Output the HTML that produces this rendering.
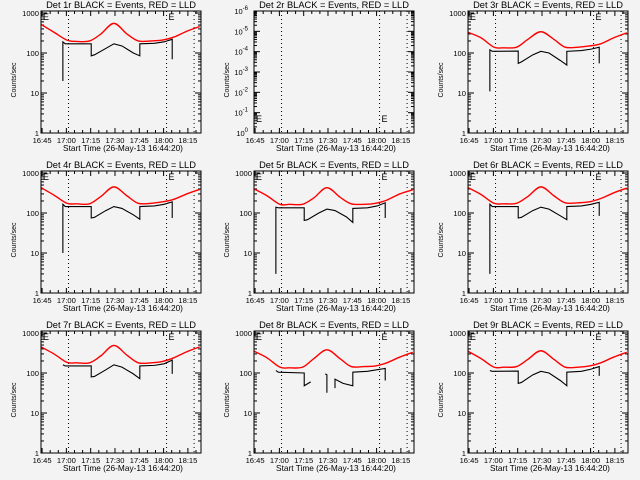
<!DOCTYPE html>
<html><head><meta charset="utf-8"><style>
html,body{margin:0;padding:0;background:#f3f3f3}
svg{display:block;font-family:"Liberation Sans",sans-serif}
</style></head><body>
<svg id="c" width="640" height="480" xmlns="http://www.w3.org/2000/svg">
<rect width="640" height="480" fill="#f3f3f3"/>
</svg>
<script>
const detNames = ["1r","2r","3r","4r","5r","6r","7r","8r","9r"];
const xTickLabels = ["16:45","17:00","17:15","17:30","17:45","18:00","18:15"];
const xTickMinutes = [0.67,15.67,30.67,45.67,60.67,75.67,90.67];
const dottedMinutes = [17,77.5,94.5];
const yTickLabels = ["1","10","100","1000"];
const yTickValues = [1,10,100,1000];
const redTimes = [0,8,16,22,30,37,45,53,60,68,75,82,90,98];
const red1 = [520,330,210,195,200,300,550,300,200,200,210,250,350,460];
const red3 = [330,240,140,135,140,220,340,220,140,140,150,170,240,320];
const red4 = [430,280,175,170,170,260,450,270,175,175,190,220,300,390];
const red5 = [400,270,165,165,165,240,430,250,170,165,175,210,300,380];
const red6 = [430,290,175,170,175,260,450,270,180,180,190,230,320,420];
const red7 = [450,300,185,180,180,270,490,280,180,180,195,240,340,450];
const red8 = [350,240,140,135,140,230,380,230,145,145,150,180,250,330];
const red9 = [350,230,140,140,145,220,360,220,140,140,150,180,250,330];
const blackTimes = [13.5,13.5,15,31,31,33,40,45,50,57,61,61,70,76,81,81];
const black1 = [20,190,170,170,85,90,130,170,150,100,85,170,175,190,220,70];
const black3 = [11,120,110,112,55,60,90,110,100,65,50,110,115,125,140,55];
const black4 = [10,165,145,145,75,78,115,145,130,90,70,145,150,165,190,75];
const black5 = [3,140,135,135,65,68,100,125,115,80,58,130,135,150,180,75];
const black6 = [3,165,145,145,75,78,115,140,125,85,68,145,150,165,185,85];
const black7 = [160,160,150,150,80,82,120,160,140,95,72,150,155,170,210,95];
const black9 = [115,115,110,112,55,58,90,110,100,65,48,105,110,125,145,85];
const black8Times = [13.5,15,31,31,35,null,44,45,45,null,50,50,55,61,61,70,81,81];
const black8 = [115,105,100,48,60,null,95,90,32,null,42,70,55,48,105,110,130,65];

const NS="http://www.w3.org/2000/svg";
const svg=document.getElementById('c');
const colX=[41,254,468], rowY=[11,171,331], W=160, H=122;
const pxPerMin=1.62;
function mk(tag,attrs,parent){const e=document.createElementNS(NS,tag);for(const k in attrs)e.setAttribute(k,attrs[k]);(parent||svg).appendChild(e);return e;}
function txt(s,attrs,parent){const e=mk('text',attrs,parent);e.textContent=s;return e;}
function smoothPath(pts){
  let d='M'+pts[0][0]+','+pts[0][1];
  for(let i=0;i<pts.length-1;i++){
    const p0=pts[Math.max(0,i-1)],p1=pts[i],p2=pts[i+1],p3=pts[Math.min(pts.length-1,i+2)];
    const c1x=p1[0]+(p2[0]-p0[0])/6,c1y=p1[1]+(p2[1]-p0[1])/6;
    const c2x=p2[0]-(p3[0]-p1[0])/6,c2y=p2[1]-(p3[1]-p1[1])/6;
    d+=` C${c1x},${c1y} ${c2x},${c2y} ${p2[0]},${p2[1]}`;
  }
  return d;
}

const reds=[red1,null,red3,red4,red5,red6,red7,red8,red9];
const blacks=[black1,null,black3,black4,black5,black6,black7,black8,black9];

for(let p=0;p<9;p++){
  const x0=colX[p%3], y0=rowY[Math.floor(p/3)], yb=y0+H;
  const g=mk('g',{});
  
  
  const xs=t=>x0+t*pxPerMin;
  const ys=v=>yb-Math.log10(v)*40;
  const t1=txt('Det '+detNames[p]+' BLACK = Events, RED = LLD',{x:x0+W/2,y:y0-3,'text-anchor':'middle','font-size':'9.3'},g);
  
  
  const yl=txt('Counts/sec',{transform:`translate(${x0-25},${y0+H/2+8}) rotate(-90)`,'text-anchor':'middle','font-size':'7'},g);
  
  
  const xl=txt('Start Time (26-May-13 16:44:20)',{x:x0+W/2+2,y:yb+18,'text-anchor':'middle','font-size':'8.3'},g);
  
  
  for(let m=0.67;m<W/pxPerMin;m+=5){
    const major=Math.abs(((m-0.67)%15))<0.01;
    const L=major?5:3;
    mk('line',{x1:xs(m),x2:xs(m),y1:yb,y2:yb-L,stroke:'#000'},g);
    mk('line',{x1:xs(m),x2:xs(m),y1:y0,y2:y0+L,stroke:'#000'},g);
  }
  xTickLabels.forEach((s,i)=>{
    const e=txt(s,{x:xs(xTickMinutes[i]),y:yb+10,'text-anchor':'middle','font-size':'7.6'},g);
    
    
  });
  dottedMinutes.forEach(m=>{
    const d=mk('line',{x1:xs(m),x2:xs(m),y1:y0,y2:yb,stroke:'#000','stroke-dasharray':'1,3'},g);
    
    
  });
  if(p===1){
    const dec=H/6;
    for(let k=0;k<=6;k++){
      const y=yb-k*dec;
      mk('line',{x1:x0,x2:x0+6,y1:y,y2:y,stroke:'#000'},g);
      mk('line',{x1:x0+W,x2:x0+W-6,y1:y,y2:y,stroke:'#000'},g);
      if(k<6)for(let j=2;j<10;j++){const yy=y-Math.log10(j)*dec;
        mk('line',{x1:x0,x2:x0+3,y1:yy,y2:yy,stroke:'#000'},g);
        mk('line',{x1:x0+W,x2:x0+W-3,y1:yy,y2:yy,stroke:'#000'},g);}
      const e=txt('10',{x:x0-6,y:y+3,'text-anchor':'end','font-size':'7.5'},g);
      const sp=mk('tspan',{dy:'-4','font-size':'6'},e); sp.textContent=(k===0?'0':'-'+k);
      
      
    }
    txt('E',{x:x0+2,y:yb-11,'font-size':'9'},g);
    txt('E',{x:xs(dottedMinutes[1])+2,y:yb-11,'font-size':'9'},g);
  } else {
    for(let k=0;k<4;k++){
      const y=ys(yTickValues[k]);
      mk('line',{x1:x0,x2:x0+6,y1:y,y2:y,stroke:'#000'},g);
      mk('line',{x1:x0+W,x2:x0+W-6,y1:y,y2:y,stroke:'#000'},g);
      for(let j=2;j<10;j++){const yy=ys(yTickValues[k]*j); if(yy<y0)break;
        mk('line',{x1:x0,x2:x0+3,y1:yy,y2:yy,stroke:'#000'},g);
        mk('line',{x1:x0+W,x2:x0+W-3,y1:yy,y2:yy,stroke:'#000'},g);}
      const e=txt(yTickLabels[k],{x:x0-2,y:y+3,'text-anchor':'end','font-size':'7.6'},g);
      
      
    }
    txt('E',{x:x0+2,y:y0+9,'font-size':'9'},g);
    txt('E',{x:xs(dottedMinutes[1])+2,y:y0+9,'font-size':'9'},g);
    const rv=reds[p];
    const rl=mk('path',{d:smoothPath(redTimes.map((t,i)=>[xs(t),ys(rv[i])])),fill:'none',stroke:'#ff0000','stroke-width':'1.4'},g);
    
    
    const bt=p===7?black8Times:blackTimes, bv=blacks[p];
    let d='',pen=false;
    bt.forEach((t,i)=>{ if(t===null||bv[i]===null){pen=false;return;}
      d+=(pen?'L':'M')+xs(t)+','+ys(bv[i])+' '; pen=true; });
    const bl=mk('path',{d:d,fill:'none',stroke:'#000','stroke-width':'1.1'},g);
    
    
  }
  const box=mk('rect',{x:x0,y:y0,width:W,height:H,fill:'none',stroke:'#000','stroke-width':'1'},g);
  
  
}
</script>
</body></html>
